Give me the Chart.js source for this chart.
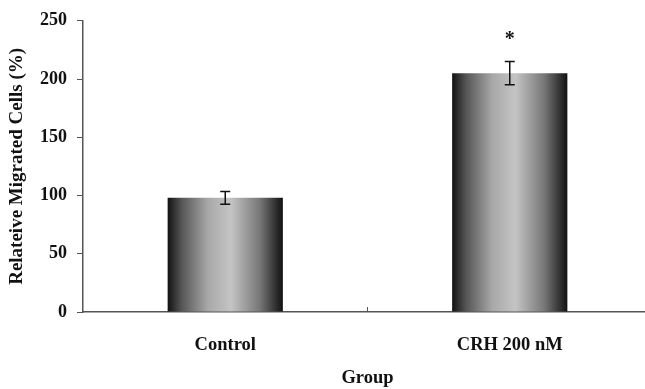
<!DOCTYPE html>
<html>
<head>
<meta charset="utf-8">
<script src="https://cdn.jsdelivr.net/npm/chart.js@4/dist/chart.umd.min.js"></script>
<style>
  html, body { margin: 0; padding: 0; background: #fff; overflow: hidden; }
  #wrap { width: 652px; height: 389px; }
</style>
</head>
<body>
<div id="wrap"><canvas id="grafico"></canvas></div>
<script>
// dados
const grupos = ['Control', 'CRH 200 nM'];
const valores = [98, 205];
const erros = [5.5, 10];
const marcas = ['', '*'];
const yTicks = [0, 50, 100, 150, 200, 250];

const fonte = '"Liberation Serif", "Times New Roman", serif';
const larguraBarra = 0.405;

// gradiente horizontal: bordas escuras, centro claro
function gradienteBarra(context) {
    const chart = context.chart;
    const x = chart.scales && chart.scales.x;
    if (!chart.chartArea || !x) return '#999';
    const centro = x.getPixelForValue(context.dataIndex);
    const meia = (x.width / grupos.length) * larguraBarra / 2;
    const g = chart.ctx.createLinearGradient(centro - meia, 0, centro + meia, 0);
    g.addColorStop(0, '#111');
    g.addColorStop(0.12, '#555');
    g.addColorStop(0.35, '#a8a8a8');
    g.addColorStop(0.55, '#c4c4c4');
    g.addColorStop(0.8, '#777');
    g.addColorStop(1, '#111');
    return g;
}

// barras de erro, asterisco e marca do eixo x
const extras = {
    id: 'extras',
    afterDatasetsDraw(chart) {
        const ctx = chart.ctx;
        const x = chart.scales.x, y = chart.scales.y;
        ctx.save();
        ctx.strokeStyle = '#111';
        ctx.lineWidth = 1.5;
        valores.forEach((v, i) => {
            const cx = x.getPixelForValue(i);
            const yt = y.getPixelForValue(v + erros[i]);
            const yb = y.getPixelForValue(v - erros[i]);
            ctx.beginPath();
            ctx.moveTo(cx, yt); ctx.lineTo(cx, yb);
            ctx.moveTo(cx - 5, yt); ctx.lineTo(cx + 5, yt);
            ctx.moveTo(cx - 5, yb); ctx.lineTo(cx + 5, yb);
            ctx.stroke();
            if (marcas[i]) {
                ctx.fillStyle = '#111';
                ctx.font = 'bold 20px ' + fonte;
                ctx.textAlign = 'center';
                ctx.textBaseline = 'middle';
                ctx.fillText(marcas[i], cx, yt - 22);
            }
        });
        // marca central do eixo x (para dentro)
        const meio = (x.left + x.right) / 2;
        ctx.strokeStyle = '#555';
        ctx.lineWidth = 1;
        ctx.beginPath();
        ctx.moveTo(meio, y.bottom); ctx.lineTo(meio, y.bottom - 5);
        ctx.stroke();
        ctx.restore();
    }
};

new Chart(document.getElementById('grafico'), {
    type: 'bar',
    data: {
        labels: grupos,
        datasets: [{
            data: valores,
            backgroundColor: gradienteBarra,
            borderWidth: 0,
            barPercentage: larguraBarra,
            categoryPercentage: 1
        }]
    },
    options: {
        responsive: true,
        maintainAspectRatio: false,
        animation: false,
        layout: { padding: { top: 7, right: 0, left: 0, bottom: 0 } },
        plugins: {
            legend: { display: false },
            tooltip: { enabled: false }
        },
        scales: {
            x: {
                grid: { display: false },
                border: { color: '#555', width: 1.5 },
                ticks: {
                    color: '#111',
                    font: { family: fonte, size: 18.5, weight: 'bold' },
                    padding: 14
                },
                title: {
                    display: true,
                    text: 'Group',
                    color: '#111',
                    font: { family: fonte, size: 18.5, weight: 'bold' },
                    padding: { top: 10, bottom: 0 }
                },
                afterFit(scale) { scale.height = 77; }
            },
            y: {
                min: 0,
                max: 250,
                afterBuildTicks(scale) { scale.ticks = yTicks.map(v => ({ value: v })); },
                grid: {
                    drawOnChartArea: false,
                    drawTicks: true,
                    tickLength: 6,
                    color: '#555'
                },
                border: { color: '#555', width: 1.5 },
                ticks: {
                    color: '#111',
                    font: { family: fonte, size: 18, weight: 'bold' },
                    padding: 10
                },
                title: {
                    display: true,
                    text: 'Relateive Migrated Cells (%)',
                    color: '#111',
                    font: { family: fonte, size: 19, weight: 'bold' },
                    padding: { top: 6, bottom: 4 }
                },
                afterFit(scale) { scale.width = 83; }
            }
        }
    },
    plugins: [extras]
});
</script>
</body>
</html>
